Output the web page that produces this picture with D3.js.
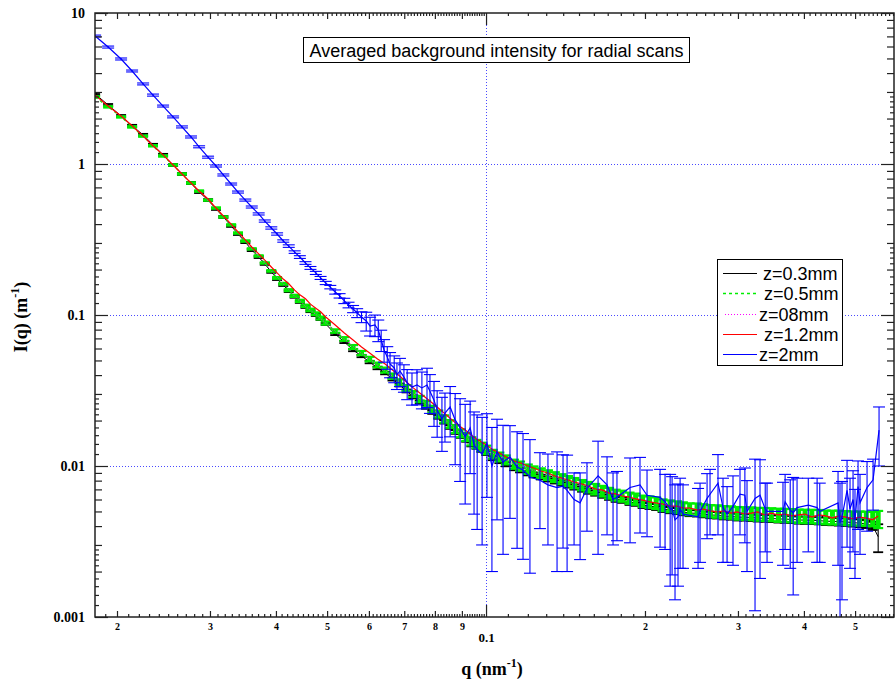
<!DOCTYPE html>
<html>
<head>
<meta charset="utf-8">
<script src="https://cdn.jsdelivr.net/npm/d3@7"></script>
<style>
  body { margin: 0; background: #fff; }
  svg { display: block; }
</style>
</head>
<body>
<svg id="chart" width="895" height="683"></svg>
<script>
// ---- data: q (nm^-1) grid shared by the z=0.3, 0.5 and 1.2 mm scans ----
const qGrid = [
  0.01818, 0.01924, 0.02036, 0.02136, 0.02241, 0.02340, 0.02445, 0.02554, 0.02655, 0.02762,
  0.02861, 0.02975, 0.0308, 0.0318, 0.0329, 0.0339, 0.0350, 0.0360, 0.0371, 0.0381,
  0.0392, 0.0402, 0.0413, 0.0423, 0.0434, 0.0444, 0.0455, 0.0465, 0.0476, 0.0486, 0.0497,
  0.0518, 0.0539, 0.0560, 0.0581, 0.0602, 0.0623, 0.0644, 0.0665, 0.0686, 0.0707,
  0.0728, 0.0749, 0.0770, 0.0791, 0.0812, 0.0833, 0.0854, 0.0875, 0.0896, 0.0917,
  0.0938, 0.0959, 0.0980, 0.1001,
  0.103, 0.106, 0.109, 0.113, 0.116, 0.120, 0.123, 0.127, 0.131, 0.135,
  0.139, 0.143, 0.147, 0.152, 0.156, 0.161, 0.166, 0.171, 0.176, 0.181,
  0.187, 0.192, 0.198, 0.204, 0.210, 0.216, 0.223, 0.230, 0.236, 0.243,
  0.251, 0.258, 0.266, 0.274, 0.282, 0.291, 0.299, 0.308, 0.318, 0.327,
  0.337, 0.347, 0.358, 0.368, 0.379, 0.391, 0.402, 0.414, 0.427, 0.440,
  0.453, 0.466, 0.480, 0.495, 0.510, 0.525, 0.540, 0.553
];

// z = 0.3 mm
const iZ03 = [
  2.91, 2.46, 2.08, 1.79, 1.56, 1.34, 1.15, 0.985, 0.859, 0.748,
  0.652, 0.577, 0.504, 0.446, 0.389, 0.344, 0.304, 0.269, 0.242, 0.218,
  0.193, 0.173, 0.158, 0.144, 0.132, 0.122, 0.113, 0.106, 0.100, 0.0941, 0.0872,
  0.0748, 0.0663, 0.0586, 0.0535, 0.0488, 0.0446, 0.0413, 0.0376, 0.0344, 0.0314,
  0.0287, 0.0265, 0.0245, 0.0227, 0.0211, 0.0196, 0.0181, 0.0168, 0.0158, 0.0149,
  0.0139, 0.0134, 0.0128, 0.0122,
  0.0113, 0.0108, 0.0103, 0.0097, 0.0094, 0.00898, 0.00871, 0.00845, 0.00820, 0.00795,
  0.00771, 0.00748, 0.00726, 0.00703, 0.00682, 0.00662, 0.00642, 0.00622, 0.00604, 0.00595,
  0.00577, 0.00569, 0.00551, 0.00543, 0.00535, 0.00519, 0.00510, 0.00503, 0.00495, 0.00488,
  0.00486, 0.00480, 0.00474, 0.00472, 0.00466, 0.00464, 0.00459, 0.00458, 0.00456, 0.00452,
  0.00451, 0.00449, 0.00446, 0.00445, 0.00443, 0.00439, 0.00438, 0.00437, 0.00435, 0.00431,
  0.00430, 0.00428, 0.00426, 0.00422, 0.00418, 0.00413, 0.00402, 0.00340
];
const relErrZ03 = [
  0.015, 0.015, 0.015, 0.015, 0.015, 0.015, 0.015, 0.015, 0.015, 0.015,
  0.015, 0.015, 0.015, 0.015, 0.015, 0.015, 0.015, 0.015, 0.015, 0.015,
  0.015, 0.015, 0.015, 0.015, 0.015, 0.015, 0.015, 0.015, 0.015, 0.015, 0.015,
  0.016, 0.017, 0.018, 0.018, 0.019, 0.020, 0.020, 0.021, 0.022, 0.022,
  0.023, 0.024, 0.024, 0.025, 0.026, 0.026, 0.027, 0.028, 0.028, 0.029,
  0.030, 0.030, 0.031, 0.032,
  0.033, 0.033, 0.034, 0.034, 0.035, 0.035, 0.036, 0.036, 0.037, 0.037,
  0.038, 0.038, 0.039, 0.039, 0.040, 0.040, 0.041, 0.041, 0.042, 0.042,
  0.043, 0.043, 0.044, 0.044, 0.045, 0.045, 0.046, 0.046, 0.047, 0.047,
  0.048, 0.048, 0.049, 0.049, 0.050, 0.050, 0.051, 0.051, 0.052, 0.052,
  0.053, 0.053, 0.054, 0.054, 0.055, 0.055, 0.056, 0.056, 0.057, 0.057,
  0.058, 0.058, 0.059, 0.059, 0.060, 0.060, 0.062, 0.21
];

// z = 0.5 mm
const iZ05 = [
  2.78, 2.39, 2.05, 1.76, 1.53, 1.32, 1.13, 0.985, 0.859, 0.748,
  0.662, 0.577, 0.511, 0.446, 0.395, 0.349, 0.309, 0.274, 0.246, 0.221,
  0.196, 0.176, 0.161, 0.146, 0.134, 0.124, 0.115, 0.108, 0.102, 0.0955, 0.0885,
  0.0783, 0.0694, 0.0614, 0.0560, 0.0511, 0.0467, 0.0432, 0.0394, 0.0360, 0.0329,
  0.0300, 0.0278, 0.0257, 0.0238, 0.0221, 0.0205, 0.0190, 0.0176, 0.0165, 0.0156,
  0.0146, 0.0140, 0.0134, 0.0128,
  0.0120, 0.0115, 0.0110, 0.0103, 0.0100, 0.00955, 0.00927, 0.00899, 0.00872, 0.00846,
  0.00820, 0.00796, 0.00772, 0.00748, 0.00726, 0.00704, 0.00683, 0.00662, 0.00643, 0.00633,
  0.00614, 0.00605, 0.00586, 0.00578, 0.00569, 0.00552, 0.00543, 0.00535, 0.00527, 0.00519,
  0.00517, 0.00511, 0.00504, 0.00502, 0.00496, 0.00494, 0.00488, 0.00487, 0.00485, 0.00481,
  0.00480, 0.00478, 0.00474, 0.00473, 0.00471, 0.00467, 0.00466, 0.00465, 0.00463, 0.00459,
  0.00458, 0.00457, 0.00455, 0.00452, 0.00451, 0.00450, 0.00448, 0.00446
];
const relErrZ05 = [
  0.010, 0.010, 0.010, 0.010, 0.010, 0.010, 0.010, 0.010, 0.010, 0.010,
  0.010, 0.010, 0.010, 0.010, 0.010, 0.010, 0.010, 0.010, 0.010, 0.010,
  0.012, 0.013, 0.014, 0.015, 0.016, 0.017, 0.018, 0.019, 0.020, 0.022, 0.024,
  0.026, 0.028, 0.030, 0.032, 0.034, 0.036, 0.038, 0.040, 0.042, 0.044,
  0.046, 0.048, 0.050, 0.052, 0.054, 0.056, 0.058, 0.060, 0.060, 0.061,
  0.062, 0.063, 0.064, 0.065,
  0.066, 0.067, 0.068, 0.069, 0.070, 0.071, 0.072, 0.073, 0.074, 0.075,
  0.076, 0.077, 0.078, 0.079, 0.080, 0.080, 0.081, 0.082, 0.083, 0.084,
  0.085, 0.085, 0.086, 0.087, 0.088, 0.088, 0.089, 0.090, 0.090, 0.091,
  0.092, 0.092, 0.093, 0.094, 0.094, 0.095, 0.096, 0.096, 0.097, 0.098,
  0.098, 0.099, 0.100, 0.100, 0.101, 0.102, 0.102, 0.103, 0.104, 0.104,
  0.105, 0.106, 0.106, 0.107, 0.108, 0.108, 0.110, 0.130
];

// z = 1.2 mm
const iZ12 = [
  2.86, 2.42, 2.08, 1.79, 1.53, 1.32, 1.15, 0.985, 0.859, 0.748,
  0.662, 0.586, 0.511, 0.453, 0.400, 0.355, 0.314, 0.282, 0.254, 0.231,
  0.208, 0.190, 0.173, 0.161, 0.146, 0.136, 0.128, 0.118, 0.111, 0.105, 0.0970,
  0.0859, 0.0760, 0.0683, 0.0614, 0.0560, 0.0511, 0.0474, 0.0432, 0.0394, 0.0360,
  0.0329, 0.0304, 0.0282, 0.0261, 0.0242, 0.0224, 0.0208, 0.0193, 0.0181, 0.0171,
  0.0160, 0.0151, 0.0144, 0.0138,
  0.0128, 0.0122, 0.0115, 0.0108, 0.0105, 0.0100, 0.00970, 0.00927, 0.00899, 0.00859,
  0.00833, 0.00808, 0.00784, 0.00760, 0.00737, 0.00704, 0.00694, 0.00662, 0.00653, 0.00633,
  0.00623, 0.00605, 0.00595, 0.00578, 0.00569, 0.00560, 0.00543, 0.00543, 0.00527, 0.00527,
  0.00511, 0.00519, 0.00504, 0.00496, 0.00504, 0.00488, 0.00496, 0.00481, 0.00488, 0.00496,
  0.00474, 0.00488, 0.00474, 0.00481, 0.00467, 0.00474, 0.00481, 0.00459, 0.00474, 0.00467,
  0.00452, 0.00467, 0.00459, 0.00446, 0.00459, 0.00452, 0.00440, 0.00467
];

// z = 0.8 mm (own, coarser q grid)
const qZ08 = [
  0.0182, 0.0204, 0.0224, 0.0245, 0.0266, 0.0286, 0.0308, 0.0329, 0.0350, 0.0371,
  0.0392, 0.0413, 0.0434, 0.0455, 0.0476, 0.0497, 0.0540, 0.0580, 0.0623, 0.0665,
  0.0707, 0.0750, 0.0791, 0.0833, 0.0875, 0.0917, 0.1000, 0.113, 0.127, 0.143,
  0.161, 0.181, 0.204, 0.230, 0.258, 0.291, 0.327, 0.368, 0.414, 0.466, 0.525, 0.553
];
const iZ08 = [
  2.84, 2.06, 1.55, 1.14, 0.860, 0.655, 0.507, 0.395, 0.310, 0.245,
  0.196, 0.161, 0.133, 0.114, 0.101, 0.0885, 0.0690, 0.0560, 0.0467, 0.0394,
  0.0329, 0.0278, 0.0238, 0.0205, 0.0176, 0.0156, 0.0128, 0.0103, 0.0090, 0.0080,
  0.0070, 0.0064, 0.00578, 0.00535, 0.00511, 0.00496, 0.00481, 0.00474, 0.00467, 0.00459, 0.00452, 0.00446
];

// z = 2 mm (own q grid, absolute errors)
const qZ2 = [
  0.01818, 0.01924, 0.02036, 0.02136, 0.02241, 0.02340, 0.02445, 0.02554, 0.02655, 0.02762,
  0.02861, 0.02975, 0.0308, 0.0318, 0.0329, 0.0339, 0.0350, 0.0360, 0.0371, 0.0381,
  0.0392, 0.0402, 0.0413, 0.0423, 0.0434, 0.0444, 0.0455, 0.0465, 0.0476, 0.0486, 0.0497,
  0.0507, 0.0518, 0.0528, 0.0539, 0.0549, 0.0560, 0.0570, 0.0581,
  0.0593, 0.0603, 0.0616, 0.0625, 0.0633, 0.0641, 0.0650, 0.0658, 0.0670, 0.0678,
  0.0687, 0.0699, 0.0709, 0.0724, 0.0740, 0.0756, 0.0773, 0.0783, 0.0797, 0.0808,
  0.0825, 0.0836, 0.0855, 0.0874, 0.0893, 0.0913, 0.0933, 0.0949, 0.0962, 0.0983,
  0.1004, 0.1026, 0.1049, 0.1077, 0.1110, 0.1145, 0.1175,
  0.1211, 0.1265, 0.1310, 0.1363, 0.1399, 0.1424, 0.1468, 0.1507, 0.1553, 0.1630,
  0.1695, 0.1740, 0.1770, 0.1874, 0.1957, 0.2018, 0.2136, 0.2183, 0.2232, 0.2251,
  0.2280, 0.2310, 0.2331, 0.2361, 0.2521, 0.2543, 0.2622, 0.2656, 0.2750, 0.2811,
  0.2861, 0.2936, 0.3027, 0.3092, 0.3121, 0.3232, 0.3303, 0.3379, 0.3406, 0.3651,
  0.3685, 0.3768, 0.3817, 0.3882, 0.4077, 0.4237, 0.4286, 0.4642, 0.4682, 0.4723,
  0.4828, 0.4891, 0.4956, 0.4998, 0.5065, 0.5109, 0.5268, 0.5408, 0.5551
];
const iZ2 = [
  7.04, 5.95, 4.96, 4.13, 3.39, 2.86, 2.42, 2.05, 1.76, 1.51,
  1.30, 1.11, 0.970, 0.846, 0.737, 0.652, 0.577, 0.519, 0.467, 0.419,
  0.377, 0.344, 0.309, 0.286, 0.261, 0.242, 0.221, 0.205, 0.190, 0.176, 0.163,
  0.153, 0.142, 0.134, 0.124, 0.1165, 0.1096, 0.1031, 0.0970,
  0.0913, 0.0846, 0.0859, 0.0796, 0.0683, 0.0587, 0.0527, 0.0474, 0.0446, 0.0401,
  0.0426, 0.0388, 0.0355, 0.0333, 0.0344, 0.0329, 0.0344, 0.0313, 0.0273, 0.0235,
  0.0205, 0.0224, 0.0246, 0.0202, 0.0179, 0.0156, 0.0179, 0.0138, 0.0128, 0.0120,
  0.0142, 0.0100, 0.0124, 0.0106, 0.0115, 0.00985, 0.00941,
  0.00845, 0.00805, 0.0075, 0.0072, 0.00736, 0.0069, 0.0060, 0.0057, 0.0071, 0.0086,
  0.0075, 0.0060, 0.0062, 0.0072, 0.0075, 0.0064, 0.0062, 0.0058, 0.0052, 0.0052,
  0.0044, 0.0046, 0.0052, 0.0048, 0.0046, 0.0050, 0.0061, 0.0065, 0.0077, 0.0053,
  0.0048, 0.0054, 0.0065, 0.0064, 0.0050, 0.0061, 0.0064, 0.0052, 0.0050, 0.0050,
  0.0058, 0.0051, 0.0049, 0.0053, 0.0055, 0.0053, 0.0050, 0.0057, 0.0042, 0.0046,
  0.0069, 0.0052, 0.0060, 0.0044, 0.0073, 0.0057, 0.0072, 0.0081, 0.0173
];
const errZ2 = [
  0.10, 0.09, 0.075, 0.06, 0.05, 0.045, 0.036, 0.03, 0.027, 0.023,
  0.02, 0.017, 0.015, 0.013, 0.011, 0.010, 0.009, 0.008, 0.0075, 0.007,
  0.0065, 0.006, 0.0055, 0.0055, 0.005, 0.005, 0.0045, 0.0045, 0.0045, 0.004, 0.004,
  0.004, 0.0045, 0.0045, 0.005, 0.005, 0.006, 0.007, 0.008,
  0.013, 0.012, 0.014, 0.013, 0.011, 0.010, 0.009, 0.009, 0.009, 0.008,
  0.009, 0.008, 0.008, 0.008, 0.009, 0.009, 0.010, 0.009, 0.009, 0.008,
  0.008, 0.008, 0.009, 0.010, 0.010, 0.010, 0.009, 0.009, 0.009, 0.009,
  0.008, 0.008, 0.008, 0.008, 0.007, 0.007, 0.007,
  0.0065, 0.0042, 0.0045, 0.0052, 0.0045, 0.0049, 0.0030, 0.0033, 0.0034, 0.0060,
  0.0040, 0.0030, 0.0030, 0.0041, 0.0039, 0.0030, 0.0033, 0.0030, 0.0036, 0.0033,
  0.0031, 0.0030, 0.0031, 0.0027, 0.0025, 0.0027, 0.0028, 0.0030, 0.0042, 0.0030,
  0.0025, 0.0032, 0.0030, 0.0033, 0.0030, 0.0050, 0.0046, 0.0025, 0.0027, 0.0028,
  0.0030, 0.0030, 0.0035, 0.0030, 0.0028, 0.0030, 0.0027, 0.0035, 0.0035, 0.0033,
  0.0040, 0.0031, 0.0033, 0.0026, 0.0035, 0.0031, 0.0035, 0.0030, 0.0073
];

// ---- axes, labels, texts ----
const xMajorTicks = [0.02, 0.03, 0.04, 0.05, 0.06, 0.07, 0.08, 0.09, 0.2, 0.3, 0.4, 0.5];
const xMajorLabels = ["2", "3", "4", "5", "6", "7", "8", "9", "2", "3", "4", "5"];
const xDecadeTicks = [0.1];
const xDecadeLabels = ["0.1"];
const yDecadeTicks = [0.001, 0.01, 0.1, 1, 10];
const yDecadeLabels = ["0.001", "0.01", "0.1", "1", "10"];
const gridX = [0.1];
const gridY = [0.01, 0.1, 1];
const titleText = "Averaged background intensity for radial scans";
const xTitle = "q (nm";
const yTitle = "I(q) (m";
const legendLabels = ["z=0.3mm", "z=0.5mm", "z=08mm", "z=1.2mm", "z=2mm"];

// ---- layout ----
const frame = { left: 95, right: 894, top: 13, bottom: 617 };
const x = d3.scaleLog().domain([0.01817, 0.5925]).range([frame.left, frame.right]);
const y = d3.scaleLog().domain([0.001, 10]).range([frame.bottom, frame.top]);

const svg = d3.select("#chart");
svg.append("rect").attr("width", 895).attr("height", 683).attr("fill", "#fff");

svg.append("defs").append("clipPath").attr("id", "plotClip")
  .append("rect")
  .attr("x", frame.left).attr("y", frame.top)
  .attr("width", frame.right - frame.left).attr("height", frame.bottom - frame.top);

// dotted grid lines
const grid = svg.append("g").attr("stroke", "#4a4aff").attr("stroke-width", 1)
  .attr("stroke-dasharray", "1,2");
grid.selectAll("line.gy").data(gridY).join("line")
  .attr("x1", frame.left).attr("x2", frame.right)
  .attr("y1", d => Math.round(y(d)) + 0.5).attr("y2", d => Math.round(y(d)) + 0.5);
grid.selectAll("line.gx").data(gridX).join("line")
  .attr("x1", d => Math.round(x(d)) + 0.5).attr("x2", d => Math.round(x(d)) + 0.5)
  .attr("y1", frame.top).attr("y2", frame.bottom);

// ---- series ----
const plotArea = svg.append("g").attr("clip-path", "url(#plotClip)");

function seriesPoints(qs, vals, lo, hi) {
  return qs.map((q, i) => ({ q, v: vals[i], lo: lo ? lo(i) : null, hi: hi ? hi(i) : null }));
}

// error bars; short bars are drawn wide so that dense runs merge into a band
function drawErrorBars(pts, color, capHalf, width, capWidth) {
  const g = plotArea.append("g").attr("stroke", color).attr("fill", "none");
  const yLo = d => d.lo > 0 ? y(d.lo) : frame.bottom + 20;
  g.selectAll("line.bar").data(pts).join("line")
    .attr("stroke-width", d => (yLo(d) - y(d.hi) > 20 ? 1.1 : width))
    .attr("x1", d => x(d.q)).attr("x2", d => x(d.q))
    .attr("y1", d => y(d.hi)).attr("y2", yLo);
  g.selectAll("line.capHi").data(pts).join("line")
    .attr("stroke-width", capWidth)
    .attr("x1", d => x(d.q) - capHalf).attr("x2", d => x(d.q) + capHalf)
    .attr("y1", d => y(d.hi)).attr("y2", d => y(d.hi));
  g.selectAll("line.capLo").data(pts).join("line")
    .attr("stroke-width", capWidth)
    .attr("x1", d => x(d.q) - capHalf).attr("x2", d => x(d.q) + capHalf)
    .attr("y1", yLo).attr("y2", yLo);
}

const line = d3.line().x(d => x(d.q)).y(d => y(d.v));
function drawLine(pts, color, width, dash) {
  plotArea.append("path").datum(pts)
    .attr("fill", "none").attr("stroke", color).attr("stroke-width", width)
    .attr("stroke-dasharray", dash || null)
    .attr("d", line);
}

const ptsZ03 = seriesPoints(qGrid, iZ03, i => iZ03[i] * (1 - relErrZ03[i]), i => iZ03[i] * (1 + relErrZ03[i]));
const ptsZ05 = seriesPoints(qGrid, iZ05, i => iZ05[i] * (1 - relErrZ05[i]), i => iZ05[i] * (1 + relErrZ05[i]));
const ptsZ08 = seriesPoints(qZ08, iZ08);
const ptsZ12 = seriesPoints(qGrid, iZ12);
const ptsZ2 = seriesPoints(qZ2, iZ2, i => iZ2[i] - errZ2[i], i => iZ2[i] + errZ2[i]);

const colors = { z03: "#000000", z05: "#00ee00", z08: "#ff00ff", z12: "#ff0000", z2: "#0000ff" };

drawErrorBars(ptsZ03, colors.z03, 5, 4, 1.8);
drawLine(ptsZ03, colors.z03, 1);
drawErrorBars(ptsZ05, colors.z05, 5, 5, 2.2);
drawLine(ptsZ05, colors.z05, 1.2, "3,3");
drawLine(ptsZ08, colors.z08, 1, "1,2");
drawLine(ptsZ12, colors.z12, 1.2);
drawErrorBars(ptsZ2, colors.z2, 6, 1.1, 1.1);
drawLine(ptsZ2, colors.z2, 1.2);

// ---- axes (ticks point inward on all four sides) ----
const xMinorTicks = d3.range(19, 100).filter(k => k % 10 !== 0).map(k => k / 1000)
  .concat(d3.range(11, 60).filter(k => k % 10 !== 0).map(k => k / 100));
const yFine = [];
const yMid = [];
[0.001, 0.01, 0.1, 1].forEach(b => {
  [1.2, 1.4, 1.6, 1.8, 2.2, 2.4, 2.6, 2.8].forEach(m => yFine.push(m * b));
  [2, 3, 4, 5, 6, 7, 8, 9].forEach(m => yMid.push(m * b));
});

const axisColor = "#222";
const serif = "'Liberation Serif', 'Times New Roman', serif";

function styleAxis(g) {
  g.select(".domain").remove();
  g.selectAll(".tick line").attr("stroke", axisColor).attr("stroke-width", 1.2);
  g.selectAll(".tick text").attr("fill", "#000").attr("font-family", serif).attr("font-weight", "bold");
}

function addAxis(axisGen, transform, values, size, fmt, pad, fontSize) {
  const g = svg.append("g").attr("transform", transform)
    .call(axisGen.tickValues(values).tickSize(-size).tickSizeOuter(0)
      .tickPadding(pad || 3).tickFormat(fmt || (() => "")));
  styleAxis(g);
  if (fontSize) g.selectAll(".tick text").attr("font-size", fontSize);
  return g;
}

const bottomT = `translate(0,${frame.bottom})`;
const topT = `translate(0,${frame.top})`;
const leftT = `translate(${frame.left},0)`;
const rightT = `translate(${frame.right},0)`;

addAxis(d3.axisBottom(x), bottomT, xMinorTicks, 3);
addAxis(d3.axisBottom(x), bottomT, xMajorTicks, 6, (d, i) => xMajorLabels[i], 6, 10);
addAxis(d3.axisBottom(x), bottomT, xDecadeTicks, 12, (d, i) => xDecadeLabels[i], 16, 13);
addAxis(d3.axisTop(x), topT, xMinorTicks, 3);
addAxis(d3.axisTop(x), topT, xMajorTicks, 6);
addAxis(d3.axisTop(x), topT, xDecadeTicks, 12);

addAxis(d3.axisLeft(y), leftT, yFine, 4);
addAxis(d3.axisLeft(y), leftT, yMid, 7);
addAxis(d3.axisLeft(y), leftT, yDecadeTicks, 13, (d, i) => yDecadeLabels[i], 10, 14);
addAxis(d3.axisRight(y), rightT, yFine, 4);
addAxis(d3.axisRight(y), rightT, yMid, 7);
addAxis(d3.axisRight(y), rightT, yDecadeTicks, 13);

// frame
svg.append("rect")
  .attr("x", frame.left).attr("y", frame.top)
  .attr("width", frame.right - frame.left).attr("height", frame.bottom - frame.top)
  .attr("fill", "none").attr("stroke", axisColor).attr("stroke-width", 1.5);

// axis titles
const xt = svg.append("text")
  .attr("x", 492).attr("y", 675).attr("text-anchor", "middle")
  .attr("font-family", serif).attr("font-weight", "bold").attr("font-size", 18);
xt.append("tspan").text(xTitle);
xt.append("tspan").attr("font-size", 12).attr("dy", -8).text("-1");
xt.append("tspan").attr("dy", 8).text(")");

const yt = svg.append("text")
  .attr("transform", "translate(27,317) rotate(-90)").attr("text-anchor", "middle")
  .attr("font-family", serif).attr("font-weight", "bold").attr("font-size", 18);
yt.append("tspan").text(yTitle);
yt.append("tspan").attr("font-size", 12).attr("dy", -8).text("-1");
yt.append("tspan").attr("dy", 8).text(")");

// title box
const sans = "'Liberation Sans', Arial, sans-serif";
svg.append("rect").attr("x", 303.5).attr("y", 37.5).attr("width", 386).attr("height", 25)
  .attr("fill", "#fff").attr("stroke", "#000").attr("stroke-width", 1);
svg.append("text").attr("x", 496.5).attr("y", 56.5).attr("text-anchor", "middle")
  .attr("font-family", sans).attr("font-size", 18).text(titleText);

// legend
const legend = svg.append("g");
legend.append("rect").attr("x", 717.5).attr("y", 259.5).attr("width", 125).attr("height", 106)
  .attr("fill", "#fff").attr("stroke", "#000").attr("stroke-width", 1);
const legendStyle = [
  { color: colors.z03, width: 1, dash: null, x1: 723, tx: 763 },
  { color: colors.z05, width: 1.6, dash: "3,3", x1: 723, tx: 764 },
  { color: colors.z08, width: 1, dash: "1,2", x1: 725, tx: 759 },
  { color: colors.z12, width: 1.2, dash: null, x1: 723, tx: 764 },
  { color: colors.z2, width: 1.2, dash: null, x1: 723, tx: 759 }
];
const rowY = d3.scalePoint().domain(legendLabels).range([273, 354]);
legendLabels.forEach((lab, i) => {
  const s = legendStyle[i];
  const yy = Math.round(rowY(lab)) + 0.5;
  legend.append("line").attr("x1", s.x1).attr("x2", 757).attr("y1", yy).attr("y2", yy)
    .attr("stroke", s.color).attr("stroke-width", s.width).attr("stroke-dasharray", s.dash);
  legend.append("text").attr("x", s.tx).attr("y", yy + 6)
    .attr("font-family", sans).attr("font-size", 18).text(lab);
});
</script>
</body>
</html>
